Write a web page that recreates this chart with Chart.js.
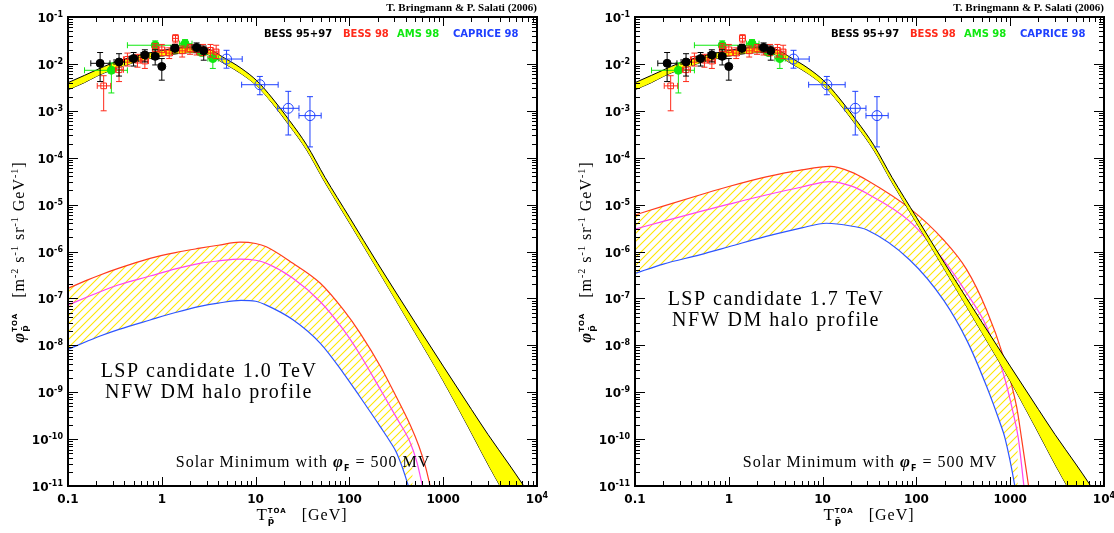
<!DOCTYPE html>
<html>
<head>
<meta charset="utf-8">
<script src="https://cdn.jsdelivr.net/npm/chart.js@4.4.1/dist/chart.umd.min.js"></script>
<style>
  body { margin: 0; background: #fff; width: 1114px; height: 533px; overflow: hidden; }
  .panel { position: absolute; top: 0; width: 557px; height: 533px; }
</style>
</head>
<body>
<div class="panel" style="left:0"><canvas id="left" width="557" height="533"></canvas></div>
<div class="panel" style="left:557px"><canvas id="right" width="557" height="533"></canvas></div>
<script>
// ---- axis ticks ----
const xTickValues = [0.1, 1, 10, 100, 1000, 10000];
const xTickLabels = ['0.1', '1', '10', '100', '1000', '10^4'];
const yTickValues = [1e-1, 1e-2, 1e-3, 1e-4, 1e-5, 1e-6, 1e-7, 1e-8, 1e-9, 1e-10, 1e-11];
const yTickExps = ['-1', '-2', '-3', '-4', '-5', '-6', '-7', '-8', '-9', '-10', '-11'];

// ---- secondary background band (GeV, flux) ----
const bandE  = [0.1, 0.15, 0.2, 0.3, 0.5, 0.7, 1, 1.5, 2, 3, 4.7, 7, 10.4, 15, 23, 35, 55, 100, 200, 500, 1000, 2000, 3000, 5000, 7000, 10000];
const bandHi = [3.98e-3, 5.7e-3, 7.4e-3, 1.05e-2, 1.43e-2, 1.68e-2, 1.93e-2, 2.19e-2, 2.29e-2, 2.14e-2, 1.32e-2, 8.1e-3, 4.3e-3, 1.88e-3, 6.2e-4, 1.88e-4, 3.8e-5, 5.4e-6, 5.6e-7, 3.1e-8, 3.6e-9, 4.3e-10, 1.26e-10, 2.95e-11, 1.1e-11, 3.6e-12];
const bandLo = [2.82e-3, 4.0e-3, 5.4e-3, 7.6e-3, 1.06e-2, 1.27e-2, 1.46e-2, 1.66e-2, 1.74e-2, 1.62e-2, 1.0e-2, 6.2e-3, 3.35e-3, 1.46e-3, 4.8e-4, 1.46e-4, 2.95e-5, 4.1e-6, 4.1e-7, 1.86e-8, 1.74e-9, 1.35e-10, 2.9e-11, 4.7e-12, 1.45e-12, 4.4e-13];

// ---- LSP 1.0 TeV signal (left) ----
const lsp10RedE  = [0.1, 0.16, 0.22, 0.35, 0.75, 1.4, 2.55, 4, 6.8, 10, 13, 25, 49, 87, 130, 215, 320, 450, 550, 650, 725, 800];
const lsp10Red   = [1.64e-7, 2.45e-7, 3.16e-7, 4.42e-7, 7.16e-7, 9.5e-7, 1.175e-6, 1.36e-6, 1.58e-6, 1.48e-6, 1.26e-6, 5.6e-7, 2.1e-7, 5.6e-8, 1.82e-8, 3.5e-9, 7.6e-10, 1.9e-10, 7.1e-11, 2.5e-11, 1.0e-11, 4.0e-12];
const lsp10MagE  = [0.1, 0.16, 0.22, 0.35, 0.75, 1.4, 2.55, 4, 6.8, 10, 13, 25, 49, 87, 130, 215, 320, 440, 525, 600, 660];
const lsp10Mag   = [7.2e-8, 1.07e-7, 1.39e-7, 1.95e-7, 3.0e-7, 4.27e-7, 5.6e-7, 6.3e-7, 6.9e-7, 6.5e-7, 5.6e-7, 2.7e-7, 8.5e-8, 2.1e-8, 6.3e-9, 1.12e-9, 2.8e-10, 8.9e-11, 3.2e-11, 1.0e-11, 4.0e-12];
const lsp10BlueE = [0.1, 0.16, 0.22, 0.35, 0.75, 1.4, 2.55, 4, 7, 10, 13, 25, 49, 87, 130, 215, 270, 320, 425, 470];
const lsp10Blue  = [8.2e-9, 1.22e-8, 1.58e-8, 2.19e-8, 3.47e-8, 5.0e-8, 6.76e-8, 7.94e-8, 9.12e-8, 8.7e-8, 7.2e-8, 3.5e-8, 1.1e-8, 2.5e-9, 7.9e-10, 1.8e-10, 9.0e-11, 5.0e-11, 1.0e-11, 4.5e-12];

// ---- LSP 1.7 TeV signal (right) ----
const lsp17RedE  = [0.1, 0.2, 0.49, 1, 2.5, 6, 12, 20, 29.5, 85, 194, 344, 561, 845, 1170, 1320, 1570, 1700];
const lsp17Red   = [6.0e-6, 9.3e-6, 1.6e-5, 2.43e-5, 3.9e-5, 5.5e-5, 6.5e-5, 5.0e-5, 3.35e-5, 8.3e-6, 1.78e-6, 4.1e-7, 5.6e-8, 5.8e-9, 4.9e-10, 1.05e-10, 1.0e-11, 3.2e-12];
const lsp17MagE  = [0.1, 0.2, 0.49, 1, 2.5, 6, 12, 20, 29.5, 85, 194, 344, 561, 845, 1080, 1220, 1400, 1500];
const lsp17Mag   = [3.0e-6, 4.4e-6, 7.1e-6, 1.02e-5, 1.6e-5, 2.37e-5, 3.1e-5, 2.5e-5, 1.74e-5, 4.4e-6, 6.6e-7, 1.29e-7, 2.5e-8, 2.5e-9, 3.5e-10, 1.05e-10, 1.0e-11, 3.2e-12];
const lsp17BlueE = [0.1, 0.2, 0.49, 1, 2.5, 6, 11, 20, 29.5, 85, 194, 344, 561, 780, 880, 1120, 1200];
const lsp17Blue  = [3.4e-7, 5.4e-7, 8.5e-7, 1.26e-6, 2.1e-6, 3.2e-6, 4.0e-6, 3.5e-6, 2.9e-6, 6.6e-7, 9.3e-8, 1.29e-8, 1.32e-9, 2.2e-10, 1.05e-10, 1.0e-11, 4.0e-12];

// ---- measurements: [E, flux, Elo, Ehi, fluxLo, fluxHi] ----
const bess9597 = [
  [0.22, 1.03e-2, 0.175, 0.28, 4.2e-3, 1.75e-2],
  [0.35, 1.1e-2, 0.31, 0.40, 5.5e-3, 1.65e-2],
  [0.50, 1.3e-2, 0.45, 0.56, 9.0e-3, 1.75e-2],
  [0.66, 1.55e-2, 0.60, 0.73, 1.1e-2, 2.0e-2],
  [0.85, 1.45e-2, 0.78, 0.93, 9.5e-3, 2.0e-2],
  [1.0, 8.8e-3, 0.95, 1.06, 4.5e-3, 1.3e-2],
  [1.38, 2.15e-2, 1.25, 1.5, 1.7e-2, 2.6e-2],
  [2.35, 2.25e-2, 2.1, 2.6, 1.8e-2, 2.8e-2],
  [2.8, 1.9e-2, 2.6, 3.0, 1.2e-2, 2.4e-2]
];
const bess98 = [
  [0.24, 3.4e-3, 0.205, 0.285, 1.0e-3, 5.6e-3],
  [0.35, 7.5e-3, 0.32, 0.39, 4.2e-3, 1.1e-2],
  [0.43, 1.25e-2, 0.39, 0.47, 9.0e-3, 1.7e-2],
  [0.55, 1.2e-2, 0.50, 0.60, 8.5e-3, 1.6e-2],
  [0.66, 1.15e-2, 0.60, 0.72, 8.0e-3, 1.5e-2],
  [0.85, 2.1e-2, 0.80, 0.92, 1.65e-2, 2.7e-2],
  [1.0, 2.0e-2, 0.93, 1.08, 1.5e-2, 2.6e-2],
  [1.2, 1.7e-2, 1.1, 1.3, 1.3e-2, 2.2e-2],
  [1.4, 3.5e-2, 1.3, 1.5, 2.8e-2, 4.2e-2],
  [1.65, 1.9e-2, 1.55, 1.8, 1.4e-2, 2.4e-2],
  [2.0, 2.1e-2, 1.85, 2.15, 1.6e-2, 2.6e-2],
  [2.35, 2.0e-2, 2.2, 2.5, 1.55e-2, 2.5e-2],
  [2.75, 2.0e-2, 2.6, 2.9, 1.5e-2, 2.6e-2],
  [3.3, 1.95e-2, 3.1, 3.5, 1.4e-2, 2.6e-2],
  [3.8, 1.8e-2, 3.6, 4.0, 1.3e-2, 2.5e-2]
];
const ams98 = [
  [0.29, 7.3e-3, 0.15, 0.43, 2.4e-3, 1.05e-2],
  [0.85, 2.5e-2, 0.43, 1.6, 2.0e-2, 3.1e-2],
  [1.77, 2.7e-2, 1.55, 2.1, 2.2e-2, 3.3e-2],
  [2.66, 1.75e-2, 2.4, 3.0, 1.5e-2, 2.1e-2],
  [3.5, 1.3e-2, 3.1, 4.0, 8.0e-3, 1.7e-2]
];
const caprice98 = [
  [4.9, 1.27e-2, 3.5, 7.2, 8.1e-3, 1.95e-2],
  [11.1, 3.6e-3, 7.1, 17.4, 2.2e-3, 5.4e-3],
  [22.3, 1.13e-3, 17.2, 29, 3.05e-4, 2.6e-3],
  [38, 7.9e-4, 29, 50, 1.7e-4, 2.0e-3]
];

const expNames  = ['BESS 95+97', 'BESS 98', 'AMS 98', 'CAPRICE 98'];
const expColors = ['#000000', '#ff2a1a', '#10e810', '#1f40ff'];

const SANS_B = '"DejaVu Sans", sans-serif';
const SERIF = '"Liberation Serif", serif';

function pts(E, F) { return E.map((e, i) => ({ x: e, y: F[i] })); }
function meas(rows) { return rows.map(r => ({ x: r[0], y: r[1], xl: r[2], xh: r[3], yl: r[4], yh: r[5] })); }

function hatchPattern() {
  const c = document.createElement('canvas');
  c.width = 8; c.height = 8;
  const g = c.getContext('2d');
  g.strokeStyle = '#ffe600';
  g.lineWidth = 1.1;
  g.beginPath();
  g.moveTo(0, 8); g.lineTo(8, 0);
  g.moveTo(-1, 1); g.lineTo(1, -1);
  g.moveTo(7, 9); g.lineTo(9, 7);
  g.stroke();
  return g.createPattern(c, 'repeat');
}

// rich text with sub/superscripts; a seg with hold:true shares x with the next
function richWidth(ctx, segs) {
  let w = 0, held = 0;
  for (const s of segs) {
    ctx.font = s.f;
    const sw = ctx.measureText(s.t).width;
    if (s.hold) { held = Math.max(held, sw); continue; }
    w += Math.max(held, sw); held = 0;
  }
  return w + held;
}
function drawRich(ctx, x, y, segs, align) {
  const w = richWidth(ctx, segs);
  let cx = align === 'center' ? x - w / 2 : align === 'right' ? x - w : x;
  let held = 0;
  ctx.textAlign = 'left';
  ctx.textBaseline = 'alphabetic';
  for (const s of segs) {
    ctx.font = s.f;
    ctx.fillStyle = s.c || '#000';
    ctx.fillText(s.t, cx, y + (s.dy || 0));
    const sw = ctx.measureText(s.t).width;
    if (s.hold) { held = Math.max(held, sw); continue; }
    cx += Math.max(held, sw); held = 0;
  }
}

const errorBars = {
  id: 'errorBars',
  beforeDatasetDraw(chart, args) {
    const ds = chart.data.datasets[args.index];
    if (!ds.errorBars) return;
    const { ctx, scales: { x, y } } = chart;
    ctx.save();
    ctx.strokeStyle = ds.borderColor;
    ctx.lineWidth = 1;
    ctx.beginPath();
    ds.data.forEach(p => {
      const px = x.getPixelForValue(p.x), py = y.getPixelForValue(p.y);
      const x0 = x.getPixelForValue(p.xl), x1 = x.getPixelForValue(p.xh);
      const y0 = y.getPixelForValue(p.yl), y1 = y.getPixelForValue(p.yh);
      ctx.moveTo(x0, py); ctx.lineTo(x1, py);
      ctx.moveTo(x0, py - 3); ctx.lineTo(x0, py + 3);
      ctx.moveTo(x1, py - 3); ctx.lineTo(x1, py + 3);
      ctx.moveTo(px, y0); ctx.lineTo(px, y1);
      ctx.moveTo(px - 3, y0); ctx.lineTo(px + 3, y0);
      ctx.moveTo(px - 3, y1); ctx.lineTo(px + 3, y1);
    });
    ctx.stroke();
    ctx.restore();
  }
};

const frame = {
  id: 'frame',
  afterDraw(chart, args, opts) {
    const { ctx, chartArea: a, scales: { x, y } } = chart;
    ctx.save();
    // ticks
    ctx.strokeStyle = '#000';
    ctx.lineWidth = 1;
    ctx.beginPath();
    xTickValues.forEach((v, i) => {
      for (let m = 1; m <= 9; m++) {
        if (i === xTickValues.length - 1 && m > 1) break;
        const px = Math.round(x.getPixelForValue(v * m)) + 0.5;
        const len = m === 1 ? 9 : 5;
        ctx.moveTo(px, a.bottom); ctx.lineTo(px, a.bottom - len);
        ctx.moveTo(px, a.top); ctx.lineTo(px, a.top + len);
      }
    });
    yTickValues.forEach((v, i) => {
      for (let m = 1; m <= 9; m++) {
        if (i === 0 && m > 1) break;
        const py = Math.round(y.getPixelForValue(v * m)) + 0.5;
        const len = m === 1 ? 10 : 5;
        ctx.moveTo(a.left, py); ctx.lineTo(a.left + len, py);
        ctx.moveTo(a.right, py); ctx.lineTo(a.right - len, py);
      }
    });
    ctx.stroke();
    ctx.lineWidth = 2;
    ctx.strokeRect(a.left, a.top, a.right - a.left, a.bottom - a.top);

    // tick labels
    const fBig = 'bold 12px ' + SANS_B, fSup = 'bold 8px ' + SANS_B;
    yTickValues.forEach((v, i) => {
      drawRich(ctx, a.left - 5, y.getPixelForValue(v) + 5,
        [{ t: '10', f: fBig }, { t: yTickExps[i], f: fSup, dy: -5 }], 'right');
    });
    xTickValues.forEach((v, i) => {
      const lab = xTickLabels[i];
      const segs = lab.includes('^')
        ? [{ t: lab.split('^')[0], f: fBig }, { t: lab.split('^')[1], f: fSup, dy: -5 }]
        : [{ t: lab, f: fBig }];
      drawRich(ctx, x.getPixelForValue(v), a.bottom + 17, segs, 'center');
    });

    // credit
    drawRich(ctx, a.right, 11, [{ t: 'T. Bringmann & P. Salati (2006)', f: 'bold 11px ' + SERIF }], 'right');

    // legend
    const legX = [196, 275, 329, 385];
    expNames.forEach((n, i) => {
      drawRich(ctx, a.left + legX[i], 37, [{ t: n, f: 'bold 10px ' + SANS_B, c: expColors[i] }], 'left');
    });

    // annotations
    ctx.letterSpacing = '1.5px';
    drawRich(ctx, a.left + 141, opts.lspY, [{ t: opts.lsp, f: '20px ' + SERIF }], 'center');
    drawRich(ctx, a.left + 141, opts.lspY + 21, [{ t: 'NFW DM halo profile', f: '20px ' + SERIF }], 'center');
    ctx.letterSpacing = '1px';
    drawRich(ctx, a.left + 235, 467, [
      { t: 'Solar Minimum with ', f: '16px ' + SERIF },
      { t: '\u03c6', f: 'bold italic 17px ' + SERIF },
      { t: 'F', f: 'bold 8px ' + SANS_B, dy: 4 },
      { t: ' = 500 MV', f: '16px ' + SERIF }
    ], 'center');

    // x title
    drawRich(ctx, a.left + 234, 520, [
      { t: 'T', f: '17px ' + SERIF },
      { t: 'TOA', f: 'bold 7px ' + SANS_B, dy: -7, hold: true },
      { t: 'p\u0304', f: 'bold 9px ' + SANS_B, dy: 4 },
      { t: '   [GeV]', f: '16px ' + SERIF }
    ], 'center');

    // y title
    ctx.translate(a.left - 44, 252);
    ctx.rotate(-Math.PI / 2);
    drawRich(ctx, 0, 0, [
      { t: '\u03c6', f: 'bold italic 17px ' + SERIF },
      { t: 'TOA', f: 'bold 7px ' + SANS_B, dy: -7, hold: true },
      { t: 'p\u0304', f: 'bold 9px ' + SANS_B, dy: 4 },
      { t: '   [m', f: '16px ' + SERIF },
      { t: '-2', f: '10px ' + SERIF, dy: -6 },
      { t: ' s', f: '16px ' + SERIF },
      { t: '-1', f: '10px ' + SERIF, dy: -6 },
      { t: ' sr', f: '16px ' + SERIF },
      { t: '-1', f: '10px ' + SERIF, dy: -6 },
      { t: ' GeV', f: '16px ' + SERIF },
      { t: '-1', f: '10px ' + SERIF, dy: -6 },
      { t: ']', f: '16px ' + SERIF }
    ], 'center');
    ctx.restore();
  }
};

function buildChart(id, sig, textOpts, padL, padR) {
  const hatch = hatchPattern();
  const line = (data, color, extra) => Object.assign({
    type: 'line', data, borderColor: color, borderWidth: 1.2, pointRadius: 0,
    fill: false, cubicInterpolationMode: 'monotone'
  }, extra);
  const marker = (rows, i, style, radius, filled) => ({
    type: 'scatter', label: expNames[i], data: meas(rows), errorBars: true,
    borderColor: expColors[i], backgroundColor: filled ? expColors[i] : 'rgba(0,0,0,0)',
    pointStyle: style, pointRadius: radius, borderWidth: 1, order: 0
  });
  new Chart(document.getElementById(id), {
    type: 'line',
    data: {
      datasets: [
        marker(bess9597, 0, 'circle', 4, true),
        marker(bess98, 1, 'rect', 4, false),
        marker(ams98, 2, 'circle', 4, true),
        marker(caprice98, 3, 'circle', 5, false),
        // background band: upper edge filled down to lower edge
        line(pts(bandE, bandHi), '#000', { order: 1, fill: 5, backgroundColor: '#ffff00', borderWidth: 1 }),
        line(pts(bandE, bandLo), '#000', { order: 1, borderWidth: 1 }),
        // signal: red fills down to blue with hatching
        line(pts(sig.redE, sig.red), '#ff3c1e', { order: 3, fill: 8, backgroundColor: hatch }),
        line(pts(sig.magE, sig.mag), '#ff44ee', { order: 2 }),
        line(pts(sig.blueE, sig.blue), '#2d55ff', { order: 2 })
      ]
    },
    options: {
      responsive: false,
      animation: false,
      events: [],
      layout: { padding: { left: padL, right: padR, top: 17, bottom: 0 } },
      plugins: { legend: { display: false }, tooltip: { enabled: false }, frame: textOpts },
      scales: {
        x: {
          type: 'logarithmic', min: 0.1, max: 10000,
          grid: { display: false }, border: { display: false }, ticks: { display: false },
          afterFit: s => { s.height = 47; }
        },
        y: {
          type: 'logarithmic', min: 1e-11, max: 1e-1,
          grid: { display: false }, border: { display: false }, ticks: { display: false },
          afterFit: s => { s.width = 68; }
        }
      }
    },
    plugins: [errorBars, frame]
  });
}

buildChart('left',
  { redE: lsp10RedE, red: lsp10Red, magE: lsp10MagE, mag: lsp10Mag, blueE: lsp10BlueE, blue: lsp10Blue },
  { lsp: 'LSP candidate 1.0 TeV', lspY: 377 }, 0, 20);
buildChart('right',
  { redE: lsp17RedE, red: lsp17Red, magE: lsp17MagE, mag: lsp17Mag, blueE: lsp17BlueE, blue: lsp17Blue },
  { lsp: 'LSP candidate 1.7 TeV', lspY: 305 }, 10, 10);
</script>
</body>
</html>
